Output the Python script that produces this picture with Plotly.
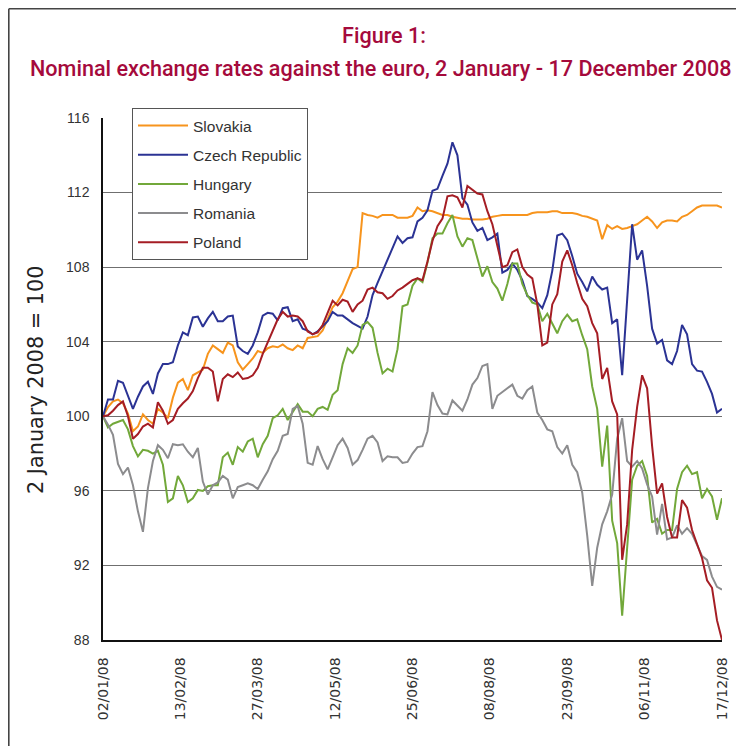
import plotly.graph_objects as go

# trading-day index (0 = 02/01/08 ... 248 = 17/12/08), read every 2 trading days
day_index = list(range(0, 249, 2))

tick_days = [0, 31, 62, 93, 124, 155, 186, 217, 248]
tick_labels = ["02/01/08", "13/02/08", "27/03/08", "12/05/08", "25/06/08",
               "08/08/08", "23/09/08", "06/11/08", "17/12/08"]

slovakia = [
    100.0, 100.5, 100.8, 100.9, 100.7, 100.15, 99.2, 99.45, 100.1, 99.8,
    99.6, 100.4, 100.2, 99.9, 101.0, 101.8, 102.0, 101.4, 102.2, 102.35,
    102.5, 103.35, 103.8, 103.6, 103.4, 103.95, 103.8, 102.9, 102.5, 102.8,
    103.1, 103.5, 103.4, 103.65, 103.75, 103.7, 103.85, 103.65, 103.55, 103.8,
    103.65, 104.2, 104.25, 104.3, 104.6, 105.2, 105.85, 106.15, 106.6, 107.25,
    107.9, 108.0, 110.9, 110.8, 110.75, 110.65, 110.8, 110.8, 110.8, 110.65,
    110.65, 110.65, 110.75, 111.2, 111.0, 111.05, 111.0, 110.9, 110.8, 110.8,
    110.7, 110.65, 110.6, 110.6, 110.55, 110.55, 110.55, 110.6, 110.7, 110.75,
    110.8, 110.8, 110.8, 110.8, 110.8, 110.8, 110.9, 110.95, 110.95, 110.95,
    111.0, 111.0, 110.9, 110.9, 110.9, 110.85, 110.75, 110.7, 110.6, 110.5,
    109.5, 110.25, 110.05, 110.2, 110.05, 110.1, 110.2, 110.3, 110.5, 110.7,
    110.45, 110.1, 110.4, 110.5, 110.5, 110.45, 110.7, 110.8, 111.0, 111.2,
    111.3, 111.3, 111.3, 111.3, 111.2]

czech = [
    100.0, 100.9, 100.9, 101.9, 101.8, 101.15, 100.4, 101.05, 101.6, 101.85,
    101.2, 102.3, 102.8, 102.8, 102.9, 103.8, 104.5, 104.35, 105.3, 105.35,
    104.8, 105.25, 105.6, 105.1, 105.1, 105.35, 105.4, 103.75, 103.5, 103.35,
    103.8, 104.5, 105.4, 105.55, 105.5, 105.15, 105.8, 105.85, 105.1, 105.2,
    104.7, 104.6, 104.4, 104.55, 104.8, 105.1, 105.6, 105.4, 105.4, 105.2,
    105.0, 104.85, 104.7, 105.35, 106.5, 107.15, 107.8, 108.35, 109.0, 109.65,
    109.3, 109.55, 109.6, 110.45, 110.65, 111.05, 112.1, 112.2, 112.9, 113.55,
    114.7, 114.0, 111.7, 111.35, 110.4, 109.95, 110.1, 109.45, 109.6, 109.8,
    107.7, 107.85, 108.2, 107.85, 107.3, 106.45, 106.3, 106.1, 105.8, 106.5,
    107.8, 109.7, 109.8, 109.45, 108.6, 107.65, 107.2, 106.7, 107.5, 107.05,
    106.8, 106.9, 105.0, 105.2, 102.2, 106.0, 110.3, 108.4, 108.9, 107.0,
    104.7, 103.9, 104.1, 103.0, 102.8, 103.5, 104.9, 104.4, 102.8, 102.45,
    102.4, 101.85, 101.2, 100.2, 100.4]

hungary = [
    100.0, 99.4, 99.6, 99.7, 99.8, 99.3, 98.4, 97.85, 98.2, 98.15,
    98.0, 98.15, 97.4, 95.4, 95.6, 96.8, 96.3, 95.4, 95.6, 96.05,
    96.0, 96.25, 96.3, 96.3, 97.8, 98.05, 97.4, 98.35, 98.1, 98.65,
    98.8, 97.8, 98.5, 98.95, 99.9, 100.05, 100.4, 99.8, 100.25, 100.65,
    100.25, 100.25, 100.0, 100.4, 100.5, 100.35, 101.15, 101.4, 102.8, 103.65,
    103.4, 103.8, 104.9, 105.05, 104.75, 103.4, 102.3, 102.55, 102.4, 103.6,
    105.9, 106.0, 107.0, 107.4, 107.2, 108.25, 109.55, 109.8, 109.8, 110.35,
    110.8, 109.65, 109.1, 109.55, 109.45, 108.5, 107.5, 108.05, 107.2, 106.85,
    106.2, 107.1, 108.2, 108.2, 107.1, 106.5, 106.1, 106.0, 105.1, 105.5,
    105.0, 104.45, 105.1, 105.45, 105.1, 105.2, 104.35, 103.6, 101.6, 100.4,
    97.3, 99.5, 94.4, 93.2, 89.3, 93.2, 96.6, 97.35, 97.6, 96.8,
    94.3, 94.5, 93.7, 93.9, 93.9, 96.1, 97.0, 97.35, 96.9, 97.0,
    95.6, 96.1, 95.7, 94.45, 95.6]

romania = [
    100.0, 99.55, 99.0, 97.45, 96.9, 97.25, 96.3, 94.9, 93.8, 96.15,
    97.6, 98.45, 98.2, 97.75, 98.5, 98.45, 98.5, 98.1, 97.8, 98.3,
    96.5, 95.8, 96.3, 96.45, 96.8, 96.6, 95.6, 96.2, 96.3, 96.4,
    96.3, 96.1, 96.6, 97.05, 97.7, 98.15, 98.95, 99.05, 100.4, 100.55,
    99.6, 97.5, 97.4, 98.4, 97.7, 97.15, 97.8, 98.45, 98.8, 98.3,
    97.4, 97.65, 98.2, 98.8, 98.95, 98.6, 97.6, 97.85, 97.8, 97.8,
    97.5, 97.55, 98.0, 98.35, 98.4, 99.2, 101.3, 100.6, 100.15, 100.1,
    100.85, 100.55, 100.3, 100.9, 101.7, 102.05, 102.7, 102.8, 100.4, 101.1,
    101.3, 101.5, 101.7, 101.1, 100.95, 101.4, 101.6, 100.2, 99.8, 99.3,
    99.2, 98.35, 98.0, 98.45, 97.4, 97.0, 95.9, 93.6, 90.9, 92.95,
    94.2, 94.9, 95.8, 98.8, 99.9, 97.6, 97.3, 97.6, 97.2, 96.35,
    95.7, 93.65, 95.3, 93.4, 93.5, 94.15, 93.7, 94.0, 93.7, 93.1,
    92.5, 92.3, 91.4, 90.85, 90.7]

poland = [
    100.0, 100.05, 100.3, 100.6, 100.8, 100.0, 98.8, 99.05, 99.45, 99.6,
    99.4, 100.75, 100.3, 99.6, 99.8, 100.4, 100.7, 100.95, 101.35, 102.05,
    102.6, 102.6, 102.4, 100.8, 102.0, 102.25, 102.1, 102.35, 102.0, 102.05,
    102.2, 102.6, 103.35, 103.95, 104.6, 105.2, 105.6, 105.35, 105.4, 105.35,
    105.1, 104.55, 104.4, 104.5, 104.9, 105.55, 106.2, 105.95, 106.25, 106.15,
    105.6, 106.0, 106.2, 106.8, 106.9, 106.65, 106.6, 106.3, 106.45, 106.75,
    106.9, 107.1, 107.3, 107.4, 107.3, 108.3, 109.4, 110.2, 110.6, 111.8,
    111.85, 111.75, 111.2, 112.35, 112.15, 111.95, 111.9, 111.0, 110.3, 109.15,
    108.0, 108.1, 108.8, 108.95, 108.0, 107.6, 107.4, 106.0, 103.8, 103.95,
    106.0, 106.55, 108.3, 108.9, 108.1, 107.15, 106.3, 105.9, 105.0, 104.45,
    102.0, 102.6, 100.8, 100.1, 92.3, 94.2, 98.2, 100.5, 102.2, 101.5,
    98.4, 95.85, 96.4, 94.6, 93.5, 93.5, 95.5, 95.1, 93.9, 93.15,
    92.4, 91.2, 90.8, 89.05, 88.0]

series = [
    ("Slovakia", slovakia, "#F7941D"),
    ("Czech Republic", czech, "#2B3394"),
    ("Hungary", hungary, "#72A83A"),
    ("Romania", romania, "#8C8C8E"),
    ("Poland", poland, "#A51D24"),
]

fig = go.Figure()
for name, vals, col in series:
    fig.add_trace(go.Scatter(x=day_index, y=vals, mode="lines", name=name,
                             legendgroup=name,
                             line=dict(color=col, width=2)))

# page offset of the plot div (browser body margin)
OFF = 8
W, H = 744, 746
ML, MR, MT, MB = 95, 30, 110, 114
PW, PH = W - ML - MR, H - MT - MB


def px(xs):
    return (xs - OFF - ML) / PW


def py(ys):
    return (H - MB - (ys - OFF)) / PH


title_col = "#A50A3C"
title_font = dict(family="Roboto, Liberation Sans, Arial, sans-serif", size=21.6,
                  color=title_col, weight=500)
fig.update_layout(
    width=W, height=H,
    margin=dict(l=ML, r=MR, t=MT, b=MB),
    paper_bgcolor="white", plot_bgcolor="white",
    showlegend=True,
    legend=dict(x=px(132), y=py(108), xanchor="left", yanchor="top",
                bgcolor="white", bordercolor="#555555", borderwidth=1,
                font=dict(family="Liberation Sans, Arial, sans-serif", size=15.5, color="#333333"),
                traceorder="grouped", tracegroupgap=6, itemwidth=50,
                entrywidth=121, entrywidthmode="pixels"),
    xaxis=dict(range=[0, 248], tickmode="array", tickvals=tick_days, ticktext=tick_labels,
               tickangle=-90, showgrid=False, zeroline=False,
               showline=True, linecolor="#111111", linewidth=1.5,
               ticks="", ticklabelstandoff=10,
               tickfont=dict(family="DejaVu Sans, sans-serif", size=14, color="#333333")),
    yaxis=dict(range=[88, 116], tickmode="array", tickvals=[88, 92, 96, 100, 104, 108, 112, 116],
               showgrid=True, gridcolor="#6f6f6f", gridwidth=1.2, zeroline=False,
               showline=True, linecolor="#111111", linewidth=1.5,
               ticks="", ticklabelstandoff=9,
               tickfont=dict(family="Liberation Sans, Arial, sans-serif", size=14, color="#333333")),
    annotations=[
        dict(text="Figure 1:", x=px(384), y=py(35), xref="paper", yref="paper",
             showarrow=False, xanchor="center", yanchor="middle", font=title_font),
        dict(text="Nominal exchange rates against the euro, 2 January - 17 December 2008",
             x=px(381), y=py(68), xref="paper", yref="paper",
             showarrow=False, xanchor="center", yanchor="middle", font=title_font),
        dict(text="2 January 2008 = 100", x=px(36), y=py(380), xref="paper", yref="paper",
             showarrow=False, xanchor="center", yanchor="middle", textangle=-90,
             font=dict(family="DejaVu Sans, sans-serif", size=20.8, color="#222222")),
    ],
    shapes=[
        dict(type="line", xref="paper", yref="paper", x0=px(8.8), x1=px(8.8), y0=py(770), y1=py(8.8),
             line=dict(color="#444444", width=1.6)),
        dict(type="line", xref="paper", yref="paper", x0=px(8.8), x1=px(770), y0=py(8.8), y1=py(8.8),
             line=dict(color="#444444", width=1.6)),
    ],
)

fig.write_html("out.html")
